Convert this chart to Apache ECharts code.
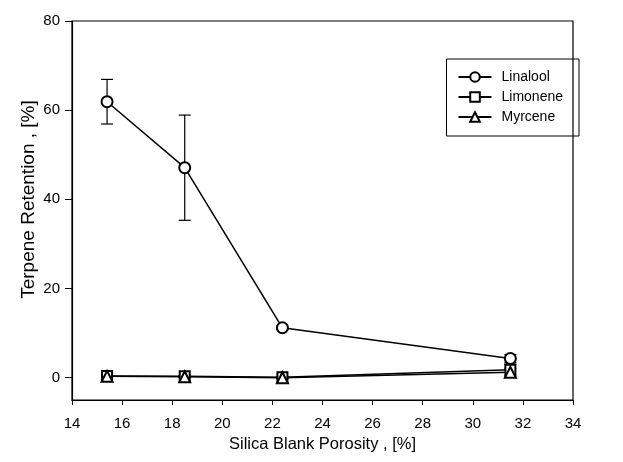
<!DOCTYPE html>
<html>
<head>
<meta charset="utf-8">
<script src="https://cdn.jsdelivr.net/npm/echarts@6/dist/echarts.min.js"></script>
<style>
  html, body { margin: 0; padding: 0; background: #fff; }
  #main { width: 623px; height: 462px; }
</style>
</head>
<body>
<div id="main"></div>
<script>
// 孔隙率
var porosity = [15.4, 18.5, 22.4, 31.5];
var linalool = [61.9, 47.1, 11.2, 4.3];
var linaloolErr = [5.0, 11.8, 0.4, 0.9];
var limonene = [0.4, 0.3, 0.1, 1.8];
var limoneneErr = [0.2, 0.2, 0.2, 1.2];
var myrcene = [0.3, 0.2, 0.0, 1.2];
var myrceneErr = [0.2, 0.2, 0.2, 0.9];
var yTicks = [0, 20, 40, 60, 80];

function errData(vals, errs) {
    var out = [];
    for (var i = 0; i < porosity.length; i++) {
        out.push([porosity[i], vals[i] - errs[i], vals[i] + errs[i]]);
    }
    return out;
}

function renderErr(params, api) {
    var lo = api.coord([api.value(0), api.value(1)]);
    var hi = api.coord([api.value(0), api.value(2)]);
    var w = 6;
    var st = { stroke: '#000', lineWidth: 1.2 };
    return {
        type: 'group',
        children: [
            { type: 'line', shape: { x1: lo[0], y1: lo[1], x2: hi[0], y2: hi[1] }, style: st },
            { type: 'line', shape: { x1: lo[0] - w, y1: lo[1], x2: lo[0] + w, y2: lo[1] }, style: st },
            { type: 'line', shape: { x1: hi[0] - w, y1: hi[1], x2: hi[0] + w, y2: hi[1] }, style: st }
        ]
    };
}

function pts(vals) {
    var out = [];
    for (var i = 0; i < porosity.length; i++) out.push([porosity[i], vals[i]]);
    return out;
}

var myChart = echarts.init(document.getElementById('main'));
var font = 'Liberation Sans, Arial, sans-serif';
var option = {
    backgroundColor: '#fff',
    animation: false,
    textStyle: { fontFamily: font, color: '#000' },
    grid: {
        left: 72, right: 50, top: 21, bottom: 62,
        show: true, borderColor: '#000', borderWidth: 1.2
    },
    legend: {
        orient: 'vertical',
        right: 44, top: 59,
        padding: [11, 16, 12, 11],
        itemGap: 6,
        itemWidth: 33, itemHeight: 12,
        borderColor: '#000', borderWidth: 1,
        textStyle: { fontSize: 14, fontFamily: font, color: '#000', padding: [0, 0, 0, 5] },
        data: ['Linalool', 'Limonene', 'Myrcene']
    },
    xAxis: {
        type: 'value',
        min: 14, max: 34, interval: 2,
        name: 'Silica Blank Porosity , [%]',
        nameLocation: 'middle', nameGap: 36,
        nameTextStyle: { fontSize: 16.5, fontFamily: font, color: '#000' },
        axisLine: { onZero: false, lineStyle: { color: '#000', width: 1.2 } },
        axisTick: { inside: false, length: 5, lineStyle: { color: '#000' } },
        axisLabel: { fontSize: 15, fontFamily: font, color: '#000', margin: 16 },
        splitLine: { show: false }
    },
    yAxis: {
        type: 'value',
        min: -5, max: 80,
        name: 'Terpene Retention , [%]',
        nameLocation: 'middle', nameGap: 34, nameMoveOverlap: false,
        nameTextStyle: { fontSize: 19, fontFamily: font, color: '#000', padding: [0, 0, 0, 22] },
        axisLine: { onZero: false, lineStyle: { color: '#000', width: 1.2 } },
        axisTick: { inside: false, length: 7, lineStyle: { color: '#000' }, customValues: yTicks },
        axisLabel: { fontSize: 15, fontFamily: font, color: '#000', margin: 12, customValues: yTicks },
        splitLine: { show: false }
    },
    series: [
        {
            name: 'Linalool', type: 'line', data: pts(linalool),
            symbol: 'emptyCircle', symbolSize: 11, z: 5,
            lineStyle: { color: '#000', width: 1.5 },
            itemStyle: { color: '#000', borderWidth: 1.5 }
        },
        {
            name: 'Limonene', type: 'line', data: pts(limonene),
            symbol: 'emptyRect', symbolSize: 10, z: 4,
            lineStyle: { color: '#000', width: 1.5 },
            itemStyle: { color: '#000', borderWidth: 1.5 }
        },
        {
            name: 'Myrcene', type: 'line', data: pts(myrcene),
            symbol: 'emptyTriangle', symbolSize: 11, z: 4,
            lineStyle: { color: '#000', width: 1.5 },
            itemStyle: { color: '#000', borderWidth: 1.5 }
        },
        { type: 'custom', renderItem: renderErr, data: errData(linalool, linaloolErr), z: 3, encode: { x: 0, y: [1, 2] } },
        { type: 'custom', renderItem: renderErr, data: errData(limonene, limoneneErr), z: 3, encode: { x: 0, y: [1, 2] } },
        { type: 'custom', renderItem: renderErr, data: errData(myrcene, myrceneErr), z: 3, encode: { x: 0, y: [1, 2] } }
    ]
};
myChart.setOption(option);
</script>
</body>
</html>
